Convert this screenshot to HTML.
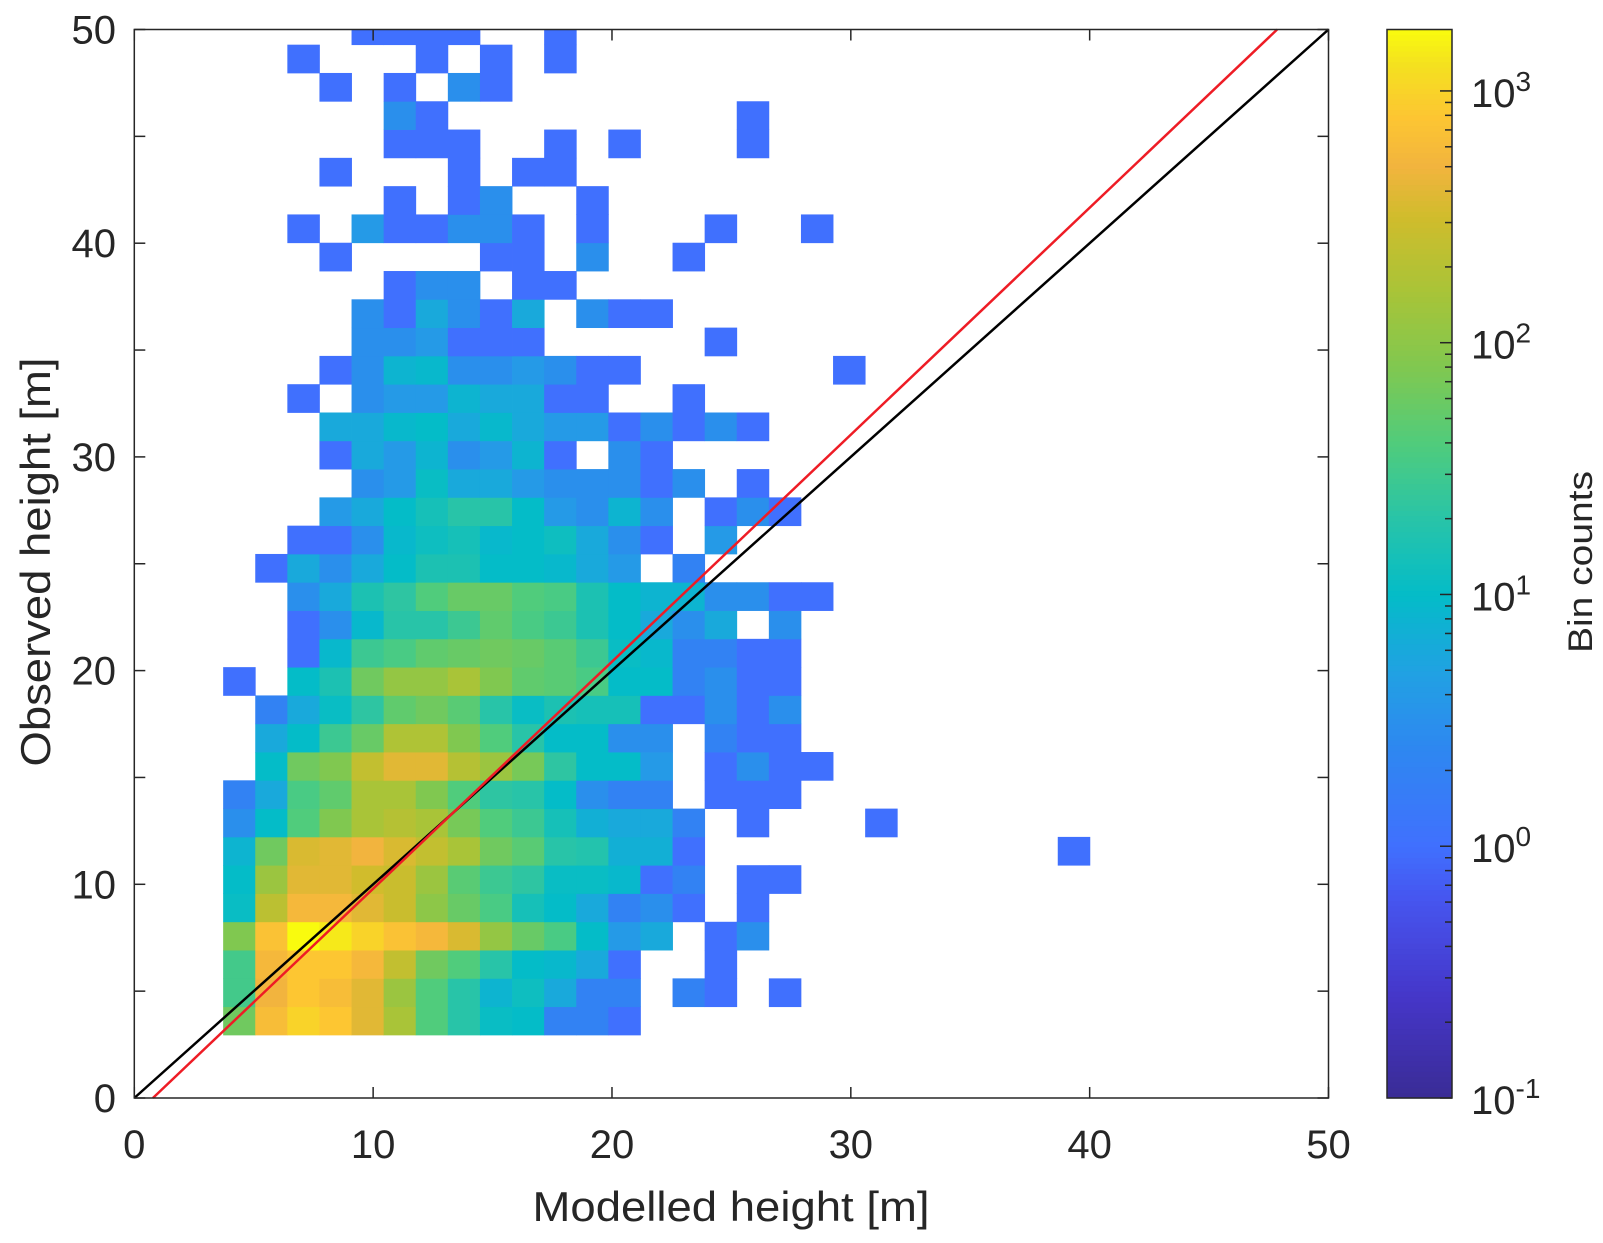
<!DOCTYPE html>
<html><head><meta charset="utf-8"><style>
html,body{margin:0;padding:0;background:#fff;}
svg{display:block;font-family:"Liberation Sans",Arial,sans-serif;}
</style></head><body>
<svg id="chart" width="1603" height="1243" viewBox="0 0 1603 1243" xmlns="http://www.w3.org/2000/svg">
<g id="cells"></g>
<g id="lines"></g>
<g id="axes"></g>
<g id="cbar"></g>
</svg>
<script>
// ---- data ----
const binX0 = 3.72, binW = 1.344;     // data units
const binY0 = 2.95, binH = 1.324;
const xTicks = [0,10,20,30,40,50];
const yTicks = [0,5,10,15,20,25,30,35,40,45,50];
const yTickLabels = ["0","","10","","20","","30","","40","","50"];
const cbarExp = [-1,0,1,2,3];
const oneToOne = [[0,0],[50,50]];
const fitLine = [[0.78,0],[47.85,50]];
// counts per row (row 0 = bottom), columns from left
const counts = [
[63,630,1000,800,400,160,40,20,11,10,2,2,1],
[32,500,800,630,400,126,40,20,8,12,6,2,2,0,2,1,0,1],
[32,560,800,800,560,250,63,40,20,10,9,6,1,0,0,1],
[80,710,1780,1400,1000,710,560,355,112,56,35,10,4,6,0,1,3],
[11,220,560,560,400,280,100,56,35,14,10,6,2,3,1,0,1],
[10,126,400,400,320,280,126,45,28,22,11,11,9,1,2,0,1,1],
[8,63,355,400,500,355,250,160,63,45,20,18,7,7,1,0,0,0,0,0,0,0,0,0,0,0,1],
[3,10,40,80,160,200,160,70,40,28,14,7,6,6,2,0,1,0,0,0,1],
[2,6,35,50,160,160,80,40,22,20,10,3,2,2,0,1,1,1],
[0,10,63,80,250,400,400,200,126,70,22,10,10,4,0,1,3,1,1],
[0,6,10,28,56,178,178,80,40,20,10,10,3,3,0,2,1,1],
[0,2,6,11,22,50,63,45,20,11,16,14,14,1,1,3,1,3],
[1,0,10,16,63,112,112,160,80,50,45,35,10,10,2,3,1,1],
[0,0,1,9,28,35,50,56,63,56,45,28,11,9,2,2,1,1],
[0,0,1,3,9,20,20,28,50,35,28,16,10,6,3,6,0,3],
[0,0,3,6,16,22,40,56,56,40,35,16,10,8,8,3,3,1,1],
[0,1,6,3,6,10,16,16,10,10,9,6,4,0,2],
[0,0,1,1,3,9,12,14,9,10,12,6,3,1,0,4],
[0,0,0,4,6,10,14,20,20,10,4,3,8,3,0,1,3,1],
[0,0,0,0,3,4,11,6,6,4,3,3,3,1,3,0,1],
[0,0,0,1,6,4,8,3,4,8,1,0,3,1],
[0,0,0,6,6,9,10,6,9,6,4,4,1,3,1,3,1],
[0,0,1,0,3,4,4,8,6,6,1,1,0,0,1],
[0,0,0,1,3,8,9,3,3,4,3,1,1,0,0,0,0,0,0,1],
[0,0,0,0,3,3,4,1,1,1,0,0,0,0,0,1],
[0,0,0,0,3,1,6,3,1,6,0,3,1,1],
[0,0,0,0,0,1,3,3,0,1,1],
[0,0,0,1,0,0,0,0,1,1,0,3,0,0,1],
[0,0,1,0,4,1,1,3,3,1,0,1,0,0,0,1,0,0,1],
[0,0,0,0,0,1,0,1,3,0,0,1],
[0,0,0,1,0,0,0,1,0,1,1],
[0,0,0,0,0,1,1,1,0,0,1,0,1,0,0,0,1],
[0,0,0,0,0,3,1,0,0,0,0,0,0,0,0,0,1],
[0,0,0,1,0,1,0,3,1],
[0,0,1,0,0,0,1,0,1,0,1],
[0,0,0,0,1,1,1,1,0,0,1]
];
// ---- layout ----
const NS="http://www.w3.org/2000/svg";
const L=134.3,R=1328.5,T=29.5,B=1098;
const sx=v=>L+(v/50)*(R-L);
const sy=v=>B-(v/50)*(B-T);
const CB={x0:1387,x1:1452,top:T,bot:B,lmin:-1,lmax:3.244};
const cy=l=>CB.bot-(l-CB.lmin)/(CB.lmax-CB.lmin)*(CB.bot-CB.top);
const stops=[[-1,[58,44,149]],[-0.6,[69,54,200]],[-0.2,[70,86,240]],[0,[64,112,254]],[0.4,[46,136,240]],[0.7,[32,162,226]],[1.0,[4,188,200]],[1.3,[40,196,168]],[1.6,[80,204,124]],[1.9,[128,200,80]],[2.2,[168,196,56]],[2.5,[208,188,44]],[2.7,[242,180,62]],[2.9,[253,198,50]],[3.1,[244,224,32]],[3.244,[249,251,14]]];
function cmap(l){
  if(l<=stops[0][0])return rgb(stops[0][1]);
  for(let i=1;i<stops.length;i++){
    if(l<=stops[i][0]){const a=stops[i-1],b=stops[i],t=(l-a[0])/(b[0]-a[0]);
      return rgb(a[1].map((c,k)=>c+(b[1][k]-c)*t));}
  }
  return rgb(stops[stops.length-1][1]);
}
function rgb(c){return "rgb("+c.map(v=>Math.round(v)).join(",")+")";}
function mk(tag,attrs,parent){const e=document.createElementNS(NS,tag);for(const k in attrs)e.setAttribute(k,attrs[k]);parent.appendChild(e);return e;}
const gC=document.getElementById('cells');
counts.forEach((row,r)=>{
  row.forEach((c,k)=>{
    if(!c)return;
    const x0=binX0+k*binW,x1=x0+binW,y0=binY0+r*binH,y1=Math.min(y0+binH,50);
    const e=mk('rect',{x:sx(x0),y:sy(y1),width:sx(x1)-sx(x0)+0.4,height:sy(y0)-sy(y1)+0.4,fill:cmap(Math.log10(c))},gC);
    
    
  });
});
const gL=document.getElementById('lines');
let l1=mk('line',{x1:sx(oneToOne[0][0]),y1:sy(oneToOne[0][1]),x2:sx(oneToOne[1][0]),y2:sy(oneToOne[1][1]),stroke:'#000','stroke-width':2.5},gL);


let l2=mk('line',{x1:sx(fitLine[0][0]),y1:sy(fitLine[0][1]),x2:sx(fitLine[1][0]),y2:sy(fitLine[1][1]),stroke:'#ee1c25','stroke-width':2.5},gL);


const gA=document.getElementById('axes');
let box=mk('rect',{x:L,y:T,width:R-L,height:B-T,fill:'none',stroke:'#262626','stroke-width':1.5},gA);


const tc='#262626',TL=11;
xTicks.forEach(v=>{
  mk('line',{x1:sx(v),y1:B,x2:sx(v),y2:B-TL,stroke:tc,'stroke-width':1.5},gA);
  mk('line',{x1:sx(v),y1:T,x2:sx(v),y2:T+TL,stroke:tc,'stroke-width':1.5},gA);
  const t=mk('text',{x:sx(v),y:1158,'text-anchor':'middle','font-size':40,fill:tc},gA);
  t.textContent=String(v);
  
  
});
yTicks.forEach((v,i)=>{
  mk('line',{x1:L,y1:sy(v),x2:L+TL,y2:sy(v),stroke:tc,'stroke-width':1.5},gA);
  mk('line',{x1:R,y1:sy(v),x2:R-TL,y2:sy(v),stroke:tc,'stroke-width':1.5},gA);
  if(yTickLabels[i]){
    const t=mk('text',{x:116,y:sy(v)+14,'text-anchor':'end','font-size':40,fill:tc},gA);
    t.textContent=yTickLabels[i];
    
    
  }
});
let xt=mk('text',{x:731,y:1221,'text-anchor':'middle','font-size':42,fill:tc,textLength:397,lengthAdjust:'spacingAndGlyphs'},gA);
xt.textContent='Modelled height [m]';


let yt=mk('text',{x:0,y:0,'text-anchor':'middle','font-size':42,fill:tc,transform:'translate(50,562) rotate(-90)',textLength:409,lengthAdjust:'spacingAndGlyphs'},gA);
yt.textContent='Observed height [m]';


// colorbar
const gB=document.getElementById('cbar');
const N=200;
for(let i=0;i<N;i++){
  const a=CB.lmin+(CB.lmax-CB.lmin)*i/N,b=CB.lmin+(CB.lmax-CB.lmin)*(i+1)/N;
  mk('rect',{x:CB.x0,y:cy(b),width:CB.x1-CB.x0,height:cy(a)-cy(b)+0.6,fill:cmap((a+b)/2)},gB);
}
let cf=mk('rect',{x:CB.x0,y:CB.top,width:CB.x1-CB.x0,height:CB.bot-CB.top,fill:'none',stroke:tc,'stroke-width':1.5},gB);


for(let e=-1;e<=3;e++){
  for(let m=1;m<10;m++){
    const l=e+Math.log10(m); if(l>CB.lmax)break;
    const len=m===1?12:7;
    mk('line',{x1:CB.x1,y1:cy(l),x2:CB.x1-len,y2:cy(l),stroke:tc,'stroke-width':1.5},gB);
  }
}
cbarExp.forEach(e=>{
  const t=mk('text',{x:1471,y:cy(e)+16,'font-size':40,fill:tc},gB);
  t.textContent='10';
  const s=mk('tspan',{dy:-16,'font-size':28},t);
  s.textContent=String(e);
  
  
});
let ct=mk('text',{x:0,y:0,'text-anchor':'middle','font-size':34,fill:tc,transform:'translate(1592,562) rotate(-90)',textLength:182,lengthAdjust:'spacingAndGlyphs'},gB);
ct.textContent='Bin counts';


</script>
</body></html>
